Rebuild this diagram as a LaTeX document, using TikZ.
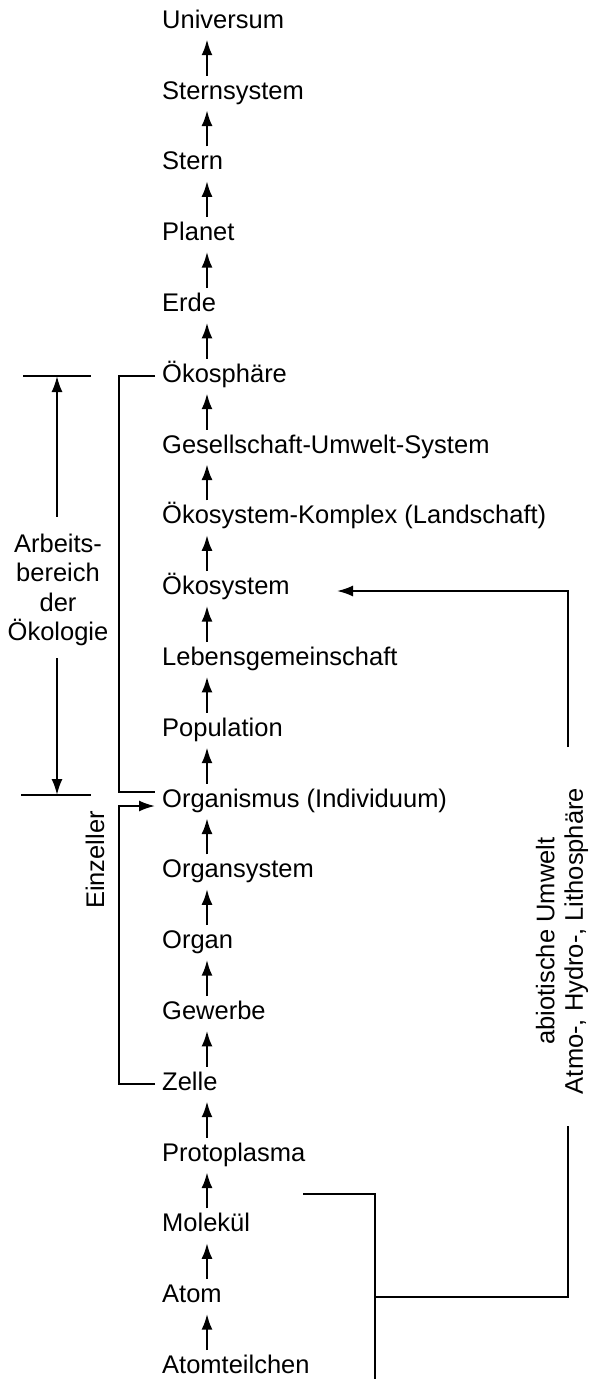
\documentclass[tikz,border=0pt]{standalone}
\usepackage{fontspec}
\setmainfont{Liberation Sans}
\usetikzlibrary{arrows.meta}
\begin{document}
\begin{tikzpicture}[x=1pt,y=-1pt,
  txt/.style={inner sep=0pt, font=\fontsize{25.5}{29.5}\selectfont},
  lab/.style={txt, anchor=base west, text height=18.5pt, text depth=5.5pt},
  ln/.style={line width=2pt},
  tip/.style={-{Latex[length=16pt,width=11pt]}},
  up/.style={line width=2.7pt, tip, shorten <=4.7pt, shorten >=5.3pt},
  ]
\useasboundingbox (0,0) rectangle (589,1379);
\coordinate (ax) at (207,0);
% chain of levels
\foreach \t [count=\i from 0] in {Universum, Sternsystem, Stern, Planet, Erde, Ökosphäre,
  Gesellschaft-Umwelt-System, Ökosystem-Komplex (Landschaft), Ökosystem, Lebensgemeinschaft,
  Population, Organismus (Individuum), Organsystem, Organ, Gewerbe, Zelle, Protoplasma,
  Molekül, Atom, Atomteilchen}
  \node[lab] (n\i) at (162, 28.2+70.8*\i) {\t};
\foreach \i in {0,...,18}{
  \pgfmathtruncatemacro{\j}{\i+1}
  \draw[up] (n\j.north -| ax) -- (n\i.south -| ax);
}
% Arbeitsbereich der Oekologie
\coordinate (eTL) at (23,376);
\coordinate (eTR) at (91,376);
\coordinate (eBL) at (21,795);
\coordinate (eBR) at (91,795);
\coordinate (eTA) at (57,376);
\coordinate (eBA) at (57,795);
\draw[ln] (eTL) -- (eTR);
\draw[ln] (eBL) -- (eBR);
\node[txt, align=center] (arb) at (58,590) {Arbeits-\\bereich\\der\\Ökologie};
\draw[ln, tip, shorten <=17pt] (arb.north -| eTA) -- (eTA);
\draw[ln, tip, shorten <=12pt] (arb.south -| eBA) -- (eBA);
% bracket Oekosphaere - Organismus
\draw[ln] ([xshift=-7pt]n5.west) -- ++(-36,0) |- ([xshift=-7pt,yshift=8.5pt]n11.west);
% Einzeller
\draw[ln, tip] ([xshift=-7pt]n15.west) -- ++(-36,0) |- ([xshift=-7pt,yshift=-5.5pt]n11.west);
\node[txt, rotate=90] (einz) at (95,860) {Einzeller};
% abiotische Umwelt
\node[txt, rotate=90, align=center, font=\fontsize{25.5}{28.5}\selectfont] (abio) at (562,941)
  {abiotische Umwelt\\Atmo-, Hydro-, Lithosphäre};
\coordinate (rTop) at (568,747);
\coordinate (oekoTip) at (337,591);
\draw[ln, tip] (rTop) |- (oekoTip);
\coordinate (rBot) at (568,1126);
\coordinate (junc) at (375,1297);
\coordinate (molR) at (303,1194);
\coordinate (bEnd) at (375,1379);
\draw[ln] (rBot) |- (junc);
\draw[ln] (molR) -| (bEnd);
\end{tikzpicture}
\end{document}
